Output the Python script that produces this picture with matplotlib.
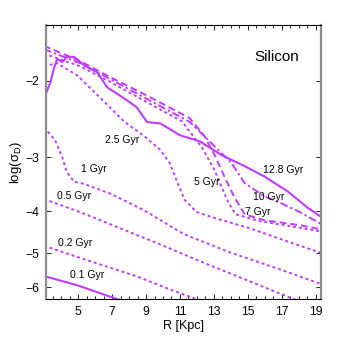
import matplotlib
matplotlib.use('Agg')
import matplotlib.pyplot as plt
from matplotlib.ticker import MultipleLocator, FixedLocator, NullLocator
import numpy as np

plt.rcParams['font.family'] = ['Liberation Sans', 'DejaVu Sans']
plt.rcParams['mathtext.fontset'] = 'custom'
plt.rcParams['mathtext.rm'] = 'Liberation Sans'

# Si abundance gradients, log(sigma_D) vs R, at several ages
r_128 = [2.98, 3.37, 3.57, 3.76, 4.06, 4.35, 4.75, 5.34, 6.12, 6.71, 7.89, 8.44, 9.06, 9.85, 10.99, 12.17, 13.46, 14.82, 16.0, 17.39, 18.57, 19.35]
s_128 = [-2.20, -2.01, -1.87, -1.78, -1.81, -1.76, -1.76, -1.84, -1.91, -2.07, -2.22, -2.30, -2.49, -2.51, -2.67, -2.76, -2.97, -3.15, -3.33, -3.61, -3.94, -4.13]

r_10 = [2.98, 5.10, 6.87, 9.22, 11.58, 12.87, 14.05, 14.82, 16.0, 17.0, 18.06, 19.35]
s_10 = [-1.69, -1.82, -1.98, -2.22, -2.49, -2.79, -3.10, -3.45, -3.70, -3.84, -4.02, -4.29]

r_7 = [2.98, 5.10, 6.87, 9.22, 11.58, 12.46, 13.05, 13.64, 14.23, 14.82, 16.0, 18.06, 19.35]
s_7 = [-1.66, -1.80, -1.96, -2.18, -2.44, -2.69, -2.97, -3.34, -3.73, -4.07, -4.20, -4.31, -4.41]

r_5 = [2.98, 5.1, 6.87, 9.22, 11.11, 12.29, 13.05, 13.46, 13.88, 14.29, 15.7, 17.47, 19.35]
s_5 = [-1.73, -1.85, -2.01, -2.26, -2.48, -2.85, -3.22, -3.52, -3.84, -4.07, -4.22, -4.33, -4.46]

r_25 = [2.98, 3.75, 4.92, 6.51, 7.69, 8.87, 9.81, 10.4, 10.87, 11.28, 11.99, 13.05, 15.11, 17.47, 19.35]
s_25 = [-1.85, -1.82, -1.94, -2.23, -2.48, -2.68, -2.88, -3.1, -3.45, -3.77, -4.02, -4.15, -4.38, -4.72, -5.0]

r_1 = [2.98, 3.63, 4.04, 4.33, 4.75, 5.34, 6.93, 8.87, 11.22, 13.93, 16.88, 19.35]
s_1 = [-2.56, -2.74, -2.99, -3.25, -3.42, -3.46, -3.65, -3.98, -4.52, -4.98, -5.45, -5.9]

r_05 = [2.98, 5.1, 7.46, 9.81, 12.17, 15.11, 17.88, 19.35]
s_05 = [-3.75, -4.02, -4.38, -4.77, -5.22, -5.81, -6.43, -6.78]

r_02 = [2.98, 5.69, 8.46, 10.52, 12.17, 13.93]
s_02 = [-4.81, -5.22, -5.66, -6.09, -6.43, -6.82]

r_01 = [2.98, 4.92, 7.51, 9.22]
s_01 = [-5.65, -5.93, -6.43, -6.78]

labels = ['12.8 Gyr', '10 Gyr', '7 Gyr', '5 Gyr', '2.5 Gyr', '1 Gyr', '0.5 Gyr', '0.2 Gyr', '0.1 Gyr']
label_x = [17.06, 16.23, 15.58, 12.58, 7.57, 5.92, 4.75, 4.81, 5.51]
label_y = [-3.22, -3.72, -4.02, -3.43, -2.74, -3.20, -3.70, -4.75, -5.63]

col = '#C03CFF'
dot = (0, (1.5, 1.5))

fig = plt.figure(figsize=(3.54, 3.38), dpi=100)
ax = fig.add_axes([0.129, 0.114, 0.777, 0.812])


def fwd(y):
    return -np.log10(np.clip(-np.asarray(y, dtype=float), 1e-3, None))


def inv(p):
    return -10.0 ** (-np.asarray(p, dtype=float))


# y axis is spaced like log(-y), as in the original figure
ax.set_yscale('function', functions=(fwd, inv))

ax.plot(r_128, s_128, color=col, lw=1.5, ls='-')
ax.plot(r_10, s_10, color=col, lw=1.4, ls=(0, (4, 1.5, 1.2, 1.5)))
ax.plot(r_7, s_7, color=col, lw=1.4, ls=(0, (3.5, 2)))
ax.plot(r_5, s_5, color=col, lw=1.4, ls=dot)
ax.plot(r_25, s_25, color=col, lw=1.4, ls=dot)
ax.plot(r_1, s_1, color=col, lw=1.4, ls=dot)
ax.plot(r_05, s_05, color=col, lw=1.4, ls=dot)
ax.plot(r_02, s_02, color=col, lw=1.4, ls=dot)
ax.plot(r_01, s_01, color=col, lw=1.5, ls='-')

for t, x, y in zip(labels, label_x, label_y):
    ax.text(x, y, t, fontsize=7.5, ha='center', va='center')
ax.text(16.70, -1.76, 'Silicon', fontsize=11, ha='center', va='center')

ax.set_xlim(3.08, 19.3)
ax.set_ylim(-6.4, -1.486)
ax.xaxis.set_major_locator(MultipleLocator(2))
ax.xaxis.set_minor_locator(MultipleLocator(0.5))
ax.set_xticks([5, 7, 9, 11, 13, 15, 17, 19])
ax.yaxis.set_major_locator(FixedLocator([-6, -5, -4, -3, -2]))
ax.yaxis.set_minor_locator(NullLocator())
ax.set_yticklabels(['\u22126', '\u22125', '\u22124', '\u22123', '\u22122'])
ax.tick_params(which='both', direction='in', top=True, right=True, labelsize=8.8)
ax.tick_params(which='major', length=3.5, width=0.6, pad=4.5)
ax.tick_params(which='minor', length=2, width=0.6)

for s in ['left', 'right']:
    ax.spines[s].set_color('#8c8c8c')
    ax.spines[s].set_linewidth(1.6)
for s in ['top', 'bottom']:
    ax.spines[s].set_linewidth(0.8)

ax.set_xlabel('R [Kpc]', fontsize=9, labelpad=2)
ax.set_ylabel('log(σ$_\\mathrm{D}$)', fontsize=9.5, labelpad=1)

fig.savefig('out.png', dpi=100)
